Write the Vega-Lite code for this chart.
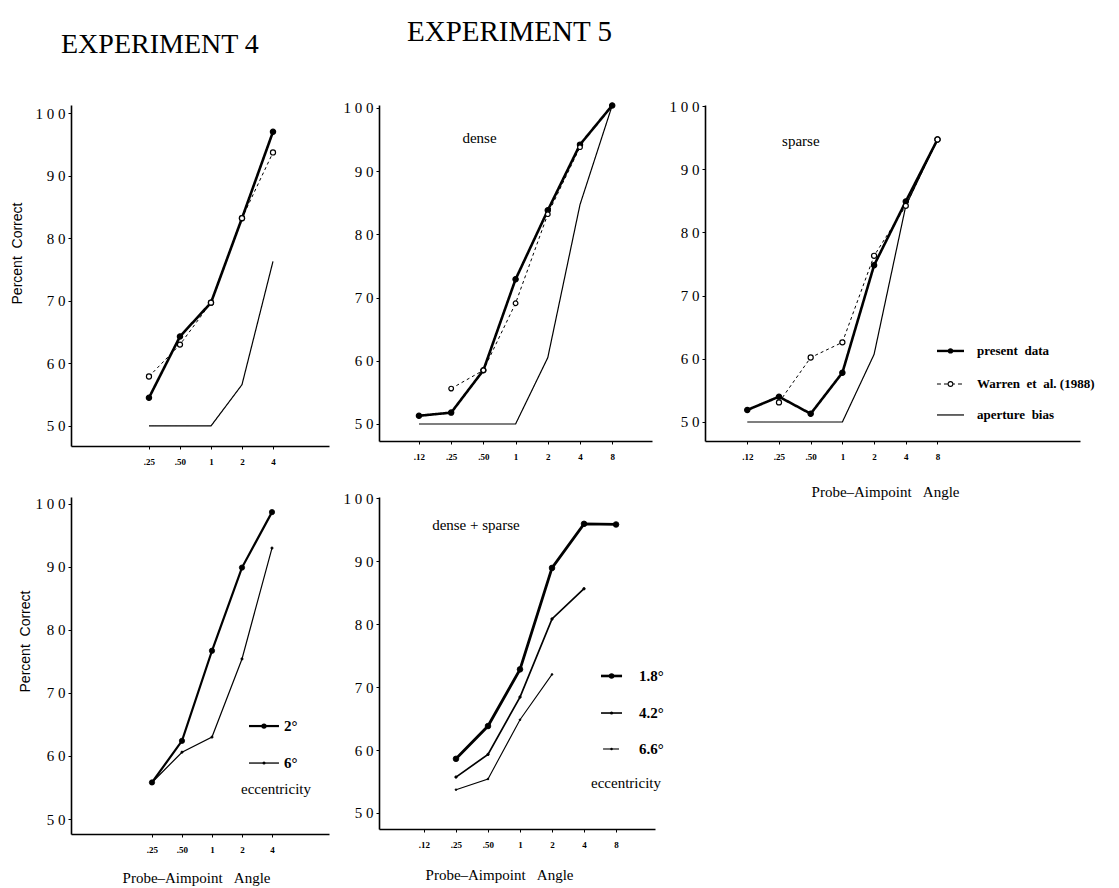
{
  "$schema": "https://vega.github.io/schema/vega-lite/v6.json",
  "background": "white",
  "padding": {"left": 10, "top": 18, "right": 2, "bottom": 2},
  "columns": 3,
  "align": "none",
  "bounds": "flush",
  "spacing": {"row": 51, "column": 50},
  "resolve": {"scale": {"x": "independent", "y": "independent", "fill": "independent", "size": "independent", "strokeWidth": "independent", "strokeDash": "independent"}},
  "datasets": {
    "one": [{"k": 1}],
    "pts": [
      {"p": "P1", "s": "present", "a": 0.25, "v": 54.5},
      {"p": "P1", "s": "present", "a": 0.5, "v": 64.3},
      {"p": "P1", "s": "present", "a": 1, "v": 69.7},
      {"p": "P1", "s": "present", "a": 2, "v": 83.2},
      {"p": "P1", "s": "present", "a": 4, "v": 97.0},
      {"p": "P1", "s": "Warren", "a": 0.25, "v": 57.9},
      {"p": "P1", "s": "Warren", "a": 0.5, "v": 63.0},
      {"p": "P1", "s": "Warren", "a": 1, "v": 69.7},
      {"p": "P1", "s": "Warren", "a": 2, "v": 83.2},
      {"p": "P1", "s": "Warren", "a": 4, "v": 93.7},
      {"p": "P1", "s": "aperture", "a": 0.25, "v": 50},
      {"p": "P1", "s": "aperture", "a": 0.5, "v": 50},
      {"p": "P1", "s": "aperture", "a": 1, "v": 50},
      {"p": "P1", "s": "aperture", "a": 2, "v": 56.6},
      {"p": "P1", "s": "aperture", "a": 4, "v": 76.3},
      {"p": "P2", "s": "present", "a": 0.125, "v": 51.3},
      {"p": "P2", "s": "present", "a": 0.25, "v": 51.8},
      {"p": "P2", "s": "present", "a": 0.5, "v": 58.5},
      {"p": "P2", "s": "present", "a": 1, "v": 72.9},
      {"p": "P2", "s": "present", "a": 2, "v": 83.8},
      {"p": "P2", "s": "present", "a": 4, "v": 94.2},
      {"p": "P2", "s": "present", "a": 8, "v": 100.4},
      {"p": "P2", "s": "Warren", "a": 0.25, "v": 55.6},
      {"p": "P2", "s": "Warren", "a": 0.5, "v": 58.5},
      {"p": "P2", "s": "Warren", "a": 1, "v": 69.1},
      {"p": "P2", "s": "Warren", "a": 2, "v": 83.2},
      {"p": "P2", "s": "Warren", "a": 4, "v": 93.8},
      {"p": "P2", "s": "aperture", "a": 0.125, "v": 50},
      {"p": "P2", "s": "aperture", "a": 0.25, "v": 50},
      {"p": "P2", "s": "aperture", "a": 0.5, "v": 50},
      {"p": "P2", "s": "aperture", "a": 1, "v": 50},
      {"p": "P2", "s": "aperture", "a": 2, "v": 60.5},
      {"p": "P2", "s": "aperture", "a": 4, "v": 84.7},
      {"p": "P2", "s": "aperture", "a": 8, "v": 100.4},
      {"p": "P3", "s": "present", "a": 0.125, "v": 51.9},
      {"p": "P3", "s": "present", "a": 0.25, "v": 54.0},
      {"p": "P3", "s": "present", "a": 0.5, "v": 51.3},
      {"p": "P3", "s": "present", "a": 1, "v": 57.8},
      {"p": "P3", "s": "present", "a": 2, "v": 74.8},
      {"p": "P3", "s": "present", "a": 4, "v": 84.9},
      {"p": "P3", "s": "present", "a": 8, "v": 94.7},
      {"p": "P3", "s": "Warren", "a": 0.25, "v": 53.1},
      {"p": "P3", "s": "Warren", "a": 0.5, "v": 60.2},
      {"p": "P3", "s": "Warren", "a": 1, "v": 62.6},
      {"p": "P3", "s": "Warren", "a": 2, "v": 76.3},
      {"p": "P3", "s": "Warren", "a": 4, "v": 84.2},
      {"p": "P3", "s": "Warren", "a": 8, "v": 94.7},
      {"p": "P3", "s": "aperture", "a": 0.125, "v": 50},
      {"p": "P3", "s": "aperture", "a": 0.25, "v": 50},
      {"p": "P3", "s": "aperture", "a": 0.5, "v": 50},
      {"p": "P3", "s": "aperture", "a": 1, "v": 50},
      {"p": "P3", "s": "aperture", "a": 2, "v": 60.7},
      {"p": "P3", "s": "aperture", "a": 4, "v": 84.2},
      {"p": "P3", "s": "aperture", "a": 8, "v": 94.7},
      {"p": "P4", "s": "2°", "a": 0.25, "v": 55.8},
      {"p": "P4", "s": "2°", "a": 0.5, "v": 62.4},
      {"p": "P4", "s": "2°", "a": 1, "v": 76.7},
      {"p": "P4", "s": "2°", "a": 2, "v": 89.9},
      {"p": "P4", "s": "2°", "a": 4, "v": 98.7},
      {"p": "P4", "s": "6°", "a": 0.25, "v": 55.8},
      {"p": "P4", "s": "6°", "a": 0.5, "v": 60.6},
      {"p": "P4", "s": "6°", "a": 1, "v": 63.0},
      {"p": "P4", "s": "6°", "a": 2, "v": 75.4},
      {"p": "P4", "s": "6°", "a": 4, "v": 93.0},
      {"p": "P5", "s": "1.8°", "a": 0.25, "v": 58.6},
      {"p": "P5", "s": "1.8°", "a": 0.5, "v": 63.8},
      {"p": "P5", "s": "1.8°", "a": 1, "v": 72.8},
      {"p": "P5", "s": "1.8°", "a": 2, "v": 88.9},
      {"p": "P5", "s": "1.8°", "a": 4, "v": 95.9},
      {"p": "P5", "s": "1.8°", "a": 8, "v": 95.8},
      {"p": "P5", "s": "4.2°", "a": 0.25, "v": 55.7},
      {"p": "P5", "s": "4.2°", "a": 0.5, "v": 59.3},
      {"p": "P5", "s": "4.2°", "a": 1, "v": 68.4},
      {"p": "P5", "s": "4.2°", "a": 2, "v": 80.8},
      {"p": "P5", "s": "4.2°", "a": 4, "v": 85.6},
      {"p": "P5", "s": "6.6°", "a": 0.25, "v": 53.7},
      {"p": "P5", "s": "6.6°", "a": 0.5, "v": 55.4},
      {"p": "P5", "s": "6.6°", "a": 1, "v": 64.8},
      {"p": "P5", "s": "6.6°", "a": 2, "v": 72.0}
    ]
  },
  "concat": [
    {
      "width": 258, "height": 341,
      "title": {"text": "EXPERIMENT 4", "anchor": "start", "frame": "group", "dx": -10, "offset": 24, "baseline": "alphabetic", "fontSize": 28, "font": "Liberation Serif", "fontWeight": "normal", "color": "black"},
      "data": {"name": "pts"},
      "transform": [{"filter": "datum.p === 'P1'"}],
      "layer": [
        {
          "mark": {"type": "line", "color": "black"},
          "encoding": {
            "x": {"field": "a", "type": "quantitative", "scale": {"type": "log", "base": 2, "domain": [0.04375, 13.99], "nice": false},
                  "axis": {"values": [0.25, 0.5, 1, 2, 4], "title": null, "labelExpr": "datum.value < 0.2 ? '.12' : datum.value < 0.3 ? '.25' : datum.value < 0.6 ? '.50' : '' + datum.value"}},
            "y": {"field": "v", "type": "quantitative", "scale": {"domain": [46.8, 101.28], "nice": false, "zero": false},
                  "axis": {"values": [50, 60, 70, 80, 90, 100], "title": "Percent\u00a0\u00a0Correct", "titleX": -47, "titleY": 148}},
            "detail": {"field": "s"},
            "strokeWidth": {"field": "s", "type": "nominal", "scale": {"type": "ordinal", "domain": ["present", "Warren", "aperture"], "range": [2.6, 1, 1.2]}, "legend": null},
            "strokeDash": {"field": "s", "type": "nominal", "scale": {"type": "ordinal", "domain": ["present", "Warren", "aperture"], "range": [[1, 0], [3, 3], [1, 0]]}, "legend": null}
          }
        },
        {
          "mark": {"type": "point", "shape": "circle", "stroke": "black", "strokeWidth": 1.2, "opacity": 1},
          "transform": [{"filter": "datum.s !== 'aperture'"}],
          "encoding": {
            "x": {"field": "a", "type": "quantitative"},
            "y": {"field": "v", "type": "quantitative"},
            "fill": {"field": "s", "type": "nominal", "scale": {"domain": ["present", "Warren"], "range": ["black", "white"]}, "legend": null},
            "size": {"field": "s", "type": "nominal", "scale": {"type": "ordinal", "domain": ["present", "Warren"], "range": [28, 26]}, "legend": null}
          }
        }
      ]
    },
    {
      "width": 273, "height": 336,
      "title": {"text": "EXPERIMENT 5", "anchor": "start", "frame": "group", "dx": 28, "offset": 30, "baseline": "alphabetic", "fontSize": 29, "font": "Liberation Serif", "fontWeight": "normal", "color": "black"},
      "data": {"name": "pts"},
      "transform": [{"filter": "datum.p === 'P2'"}],
      "layer": [
        {
          "mark": {"type": "line", "color": "black"},
          "encoding": {
            "x": {"field": "a", "type": "quantitative", "scale": {"type": "log", "base": 2, "domain": [0.0529, 18.84], "nice": false},
                  "axis": {"values": [0.125, 0.25, 0.5, 1, 2, 4, 8], "title": null, "labelExpr": "datum.value < 0.2 ? '.12' : datum.value < 0.3 ? '.25' : datum.value < 0.6 ? '.50' : '' + datum.value"}},
            "y": {"field": "v", "type": "quantitative", "scale": {"domain": [47.31, 100.47], "nice": false, "zero": false},
                  "axis": {"values": [50, 60, 70, 80, 90, 100], "title": null}},
            "detail": {"field": "s"},
            "strokeWidth": {"field": "s", "type": "nominal", "scale": {"type": "ordinal", "domain": ["present", "Warren", "aperture"], "range": [2.6, 1, 1.2]}, "legend": null},
            "strokeDash": {"field": "s", "type": "nominal", "scale": {"type": "ordinal", "domain": ["present", "Warren", "aperture"], "range": [[1, 0], [3, 3], [1, 0]]}, "legend": null}
          }
        },
        {
          "mark": {"type": "point", "shape": "circle", "stroke": "black", "strokeWidth": 1.2, "opacity": 1},
          "transform": [{"filter": "datum.s !== 'aperture'"}],
          "encoding": {
            "x": {"field": "a", "type": "quantitative"},
            "y": {"field": "v", "type": "quantitative"},
            "fill": {"field": "s", "type": "nominal", "scale": {"domain": ["present", "Warren"], "range": ["black", "white"]}, "legend": null},
            "size": {"field": "s", "type": "nominal", "scale": {"type": "ordinal", "domain": ["present", "Warren"], "range": [28, 22]}, "legend": null}
          }
        },
        {
          "data": {"values": [{"t": "dense"}]},
          "mark": {"type": "text", "font": "Liberation Serif", "fontSize": 15, "align": "center", "baseline": "middle", "color": "black"},
          "encoding": {"x": {"datum": 0.46}, "y": {"datum": 95.3}, "text": {"field": "t"}}
        }
      ]
    },
    {
      "width": 375, "height": 336,
      "data": {"name": "pts"},
      "transform": [{"filter": "datum.p === 'P3'"}],
      "layer": [
        {
          "mark": {"type": "line", "color": "black"},
          "encoding": {
            "x": {"field": "a", "type": "quantitative", "scale": {"type": "log", "base": 2, "domain": [0.0496, 180.4], "nice": false},
                  "axis": {"values": [0.125, 0.25, 0.5, 1, 2, 4, 8], "title": "Probe\u2013Aimpoint\u00a0\u00a0\u00a0Angle", "titleX": 180, "titleY": 55, "titleBaseline": "alphabetic", "titleAlign": "center", "labelExpr": "datum.value < 0.2 ? '.12' : datum.value < 0.3 ? '.25' : datum.value < 0.6 ? '.50' : '' + datum.value"}},
            "y": {"field": "v", "type": "quantitative", "scale": {"domain": [46.99, 100.16], "nice": false, "zero": false},
                  "axis": {"values": [50, 60, 70, 80, 90, 100], "title": null}},
            "detail": {"field": "s"},
            "strokeWidth": {"field": "s", "type": "nominal", "scale": {"type": "ordinal", "domain": ["present", "Warren", "aperture"], "range": [2.6, 1, 1.2]}, "legend": null},
            "strokeDash": {"field": "s", "type": "nominal", "scale": {"type": "ordinal", "domain": ["present", "Warren", "aperture"], "range": [[1, 0], [3, 3], [1, 0]]}, "legend": null}
          }
        },
        {
          "mark": {"type": "point", "shape": "circle", "stroke": "black", "strokeWidth": 1.2, "opacity": 1},
          "transform": [{"filter": "datum.s !== 'aperture'"}],
          "encoding": {
            "x": {"field": "a", "type": "quantitative"},
            "y": {"field": "v", "type": "quantitative"},
            "fill": {"field": "s", "type": "nominal", "scale": {"domain": ["present", "Warren"], "range": ["black", "white"]}, "legend": null},
            "size": {"field": "s", "type": "nominal", "scale": {"type": "ordinal", "domain": ["present", "Warren"], "range": [28, 26]}, "legend": null}
          }
        },
        {
          "data": {"values": [{"t": "sparse"}]},
          "mark": {"type": "text", "font": "Liberation Serif", "fontSize": 15, "align": "center", "baseline": "middle", "color": "black"},
          "encoding": {"x": {"datum": 0.403}, "y": {"datum": 94.5}, "text": {"field": "t"}}
        },
        {
          "data": {"name": "one"},
          "mark": {"type": "rule", "color": "black", "strokeWidth": 2.4},
          "encoding": {"x": {"datum": 7.91}, "x2": {"datum": 14.28}, "y": {"datum": 61.24}}
        },
        {
          "data": {"name": "one"},
          "mark": {"type": "point", "shape": "circle", "filled": true, "color": "black", "size": 28, "opacity": 1},
          "encoding": {"x": {"datum": 10.63}, "y": {"datum": 61.24}}
        },
        {
          "data": {"name": "one"},
          "mark": {"type": "rule", "color": "black", "strokeWidth": 1.1, "strokeDash": [4, 3]},
          "encoding": {"x": {"datum": 7.91}, "x2": {"datum": 14.28}, "y": {"datum": 56.01}}
        },
        {
          "data": {"name": "one"},
          "mark": {"type": "point", "shape": "circle", "fill": "white", "stroke": "black", "strokeWidth": 1.1, "size": 22, "opacity": 1},
          "encoding": {"x": {"datum": 10.63}, "y": {"datum": 56.01}}
        },
        {
          "data": {"name": "one"},
          "mark": {"type": "rule", "color": "black", "strokeWidth": 1.2},
          "encoding": {"x": {"datum": 7.91}, "x2": {"datum": 14.28}, "y": {"datum": 51.11}}
        },
        {
          "data": {"values": [{"t": "present\u00a0\u00a0data", "y": 61.24}, {"t": "Warren\u00a0\u00a0et\u00a0\u00a0al.\u00a0(1988)", "y": 56.01}, {"t": "aperture\u00a0\u00a0bias", "y": 51.11}]},
          "mark": {"type": "text", "font": "Liberation Serif", "fontSize": 13, "fontWeight": "bold", "align": "left", "baseline": "middle", "color": "black"},
          "encoding": {"x": {"datum": 18.98}, "y": {"field": "y", "type": "quantitative"}, "text": {"field": "t"}}
        }
      ]
    },
    {
      "width": 258, "height": 337,
      "data": {"name": "pts"},
      "transform": [{"filter": "datum.p === 'P4'"}],
      "layer": [
        {
          "mark": {"type": "line", "color": "black"},
          "encoding": {
            "x": {"field": "a", "type": "quantitative", "scale": {"type": "log", "base": 2, "domain": [0.0385, 14.93], "nice": false},
                  "axis": {"values": [0.25, 0.5, 1, 2, 4], "title": "Probe\u2013Aimpoint\u00a0\u00a0\u00a0Angle", "titleX": 125, "titleY": 48, "titleBaseline": "alphabetic", "titleAlign": "center", "labelExpr": "datum.value < 0.2 ? '.12' : datum.value < 0.3 ? '.25' : datum.value < 0.6 ? '.50' : '' + datum.value"}},
            "y": {"field": "v", "type": "quantitative", "scale": {"domain": [47.62, 101.1], "nice": false, "zero": false},
                  "axis": {"values": [50, 60, 70, 80, 90, 100], "title": "Percent\u00a0\u00a0Correct", "titleX": -39, "titleY": 144}},
            "detail": {"field": "s"},
            "strokeWidth": {"field": "s", "type": "nominal", "scale": {"type": "ordinal", "domain": ["2°", "6°"], "range": [2.2, 1.2]}, "legend": null}
          }
        },
        {
          "mark": {"type": "point", "shape": "circle", "stroke": "black", "fill": "black", "strokeWidth": 0.8, "opacity": 1},
          "encoding": {
            "x": {"field": "a", "type": "quantitative"},
            "y": {"field": "v", "type": "quantitative"},
            "size": {"field": "s", "type": "nominal", "scale": {"type": "ordinal", "domain": ["2°", "6°"], "range": [28, 5]}, "legend": null}
          }
        },
        {
          "data": {"values": [{"t": "eccentricity"}]},
          "mark": {"type": "text", "font": "Liberation Serif", "fontSize": 15, "align": "center", "baseline": "middle", "color": "black"},
          "encoding": {"x": {"datum": 4.39}, "y": {"datum": 54.75}, "text": {"field": "t"}}
        },
        {
          "data": {"name": "one"},
          "mark": {"type": "rule", "color": "black", "strokeWidth": 2.2},
          "encoding": {"x": {"datum": 2.351}, "x2": {"datum": 4.70}, "y": {"datum": 64.75}}
        },
        {
          "data": {"name": "one"},
          "mark": {"type": "point", "shape": "circle", "filled": true, "color": "black", "size": 28, "opacity": 1},
          "encoding": {"x": {"datum": 3.325}, "y": {"datum": 64.75}}
        },
        {
          "data": {"name": "one"},
          "mark": {"type": "rule", "color": "black", "strokeWidth": 1.3},
          "encoding": {"x": {"datum": 2.351}, "x2": {"datum": 4.70}, "y": {"datum": 58.88}}
        },
        {
          "data": {"name": "one"},
          "mark": {"type": "point", "shape": "circle", "filled": true, "color": "black", "size": 9, "opacity": 1},
          "encoding": {"x": {"datum": 3.325}, "y": {"datum": 58.88}}
        },
        {
          "data": {"values": [{"t": "2°", "y": 64.75}, {"t": "6°", "y": 58.88}]},
          "mark": {"type": "text", "font": "Liberation Serif", "fontSize": 15, "fontWeight": "bold", "align": "left", "baseline": "middle", "color": "black"},
          "encoding": {"x": {"datum": 5.278}, "y": {"field": "y", "type": "quantitative"}, "text": {"field": "t"}}
        }
      ]
    },
    {
      "width": 276, "height": 332,
      "data": {"name": "pts"},
      "transform": [{"filter": "datum.p === 'P5'"}],
      "layer": [
        {
          "mark": {"type": "line", "color": "black"},
          "encoding": {
            "x": {"field": "a", "type": "quantitative", "scale": {"type": "log", "base": 2, "domain": [0.0472, 18.6], "nice": false},
                  "axis": {"values": [0.125, 0.25, 0.5, 1, 2, 4, 8], "title": "Probe\u2013Aimpoint\u00a0\u00a0\u00a0Angle", "titleX": 120, "titleY": 50, "titleBaseline": "alphabetic", "titleAlign": "center", "labelExpr": "datum.value < 0.2 ? '.12' : datum.value < 0.3 ? '.25' : datum.value < 0.6 ? '.50' : '' + datum.value"}},
            "y": {"field": "v", "type": "quantitative", "scale": {"domain": [47.46, 100.16], "nice": false, "zero": false},
                  "axis": {"values": [50, 60, 70, 80, 90, 100], "title": null}},
            "detail": {"field": "s"},
            "strokeWidth": {"field": "s", "type": "nominal", "scale": {"type": "ordinal", "domain": ["1.8°", "4.2°", "6.6°"], "range": [2.8, 1.7, 1.1]}, "legend": null}
          }
        },
        {
          "mark": {"type": "point", "shape": "circle", "stroke": "black", "fill": "black", "strokeWidth": 0.8, "opacity": 1},
          "encoding": {
            "x": {"field": "a", "type": "quantitative"},
            "y": {"field": "v", "type": "quantitative"},
            "size": {"field": "s", "type": "nominal", "scale": {"type": "ordinal", "domain": ["1.8°", "4.2°", "6.6°"], "range": [32, 6, 3]}, "legend": null}
          }
        },
        {
          "data": {"values": [{"t": "dense + sparse"}]},
          "mark": {"type": "text", "font": "Liberation Serif", "fontSize": 15, "align": "center", "baseline": "middle", "color": "black"},
          "encoding": {"x": {"datum": 0.385}, "y": {"datum": 95.7}, "text": {"field": "t"}}
        },
        {
          "data": {"values": [{"t": "eccentricity"}]},
          "mark": {"type": "text", "font": "Liberation Serif", "fontSize": 15, "align": "center", "baseline": "middle", "color": "black"},
          "encoding": {"x": {"datum": 9.93}, "y": {"datum": 54.76}, "text": {"field": "t"}}
        },
        {
          "data": {"name": "one"},
          "mark": {"type": "rule", "color": "black", "strokeWidth": 2.6},
          "encoding": {"x": {"datum": 5.78}, "x2": {"datum": 9.11}, "y": {"datum": 71.75}}
        },
        {
          "data": {"name": "one"},
          "mark": {"type": "point", "shape": "circle", "filled": true, "color": "black", "size": 30, "opacity": 1},
          "encoding": {"x": {"datum": 7.26}, "y": {"datum": 71.75}}
        },
        {
          "data": {"name": "one"},
          "mark": {"type": "rule", "color": "black", "strokeWidth": 1.6},
          "encoding": {"x": {"datum": 5.78}, "x2": {"datum": 9.11}, "y": {"datum": 65.87}}
        },
        {
          "data": {"name": "one"},
          "mark": {"type": "point", "shape": "circle", "filled": true, "color": "black", "size": 10, "opacity": 1},
          "encoding": {"x": {"datum": 7.26}, "y": {"datum": 65.87}}
        },
        {
          "data": {"name": "one"},
          "mark": {"type": "rule", "color": "black", "strokeWidth": 1.1},
          "encoding": {"x": {"datum": 6.04}, "x2": {"datum": 8.54}, "y": {"datum": 60.16}}
        },
        {
          "data": {"name": "one"},
          "mark": {"type": "point", "shape": "circle", "filled": true, "color": "black", "size": 6, "opacity": 1},
          "encoding": {"x": {"datum": 7.26}, "y": {"datum": 60.16}}
        },
        {
          "data": {"values": [{"t": "1.8°", "y": 71.75}, {"t": "4.2°", "y": 65.87}, {"t": "6.6°", "y": 60.16}]},
          "mark": {"type": "text", "font": "Liberation Serif", "fontSize": 15, "fontWeight": "bold", "align": "left", "baseline": "middle", "color": "black"},
          "encoding": {"x": {"datum": 13.17}, "y": {"field": "y", "type": "quantitative"}, "text": {"field": "t"}}
        }
      ]
    }
  ],
  "config": {
    "view": {"stroke": null},
    "mark": {"color": "black"},
    "font": "Liberation Serif",
    "axis": {
      "grid": false,
      "domainColor": "black",
      "domainWidth": 1.6,
      "tickColor": "black",
      "tickSize": 3,
      "tickWidth": 1,
      "labelColor": "black",
      "labelFont": "Liberation Serif",
      "titleColor": "black",
      "titleFontWeight": "normal",
      "labelOverlap": false,
      "labelFlush": false
    },
    "axisX": {"labelFontSize": 9, "labelFontWeight": "bold", "labelPadding": 8, "titleFont": "Liberation Serif", "titleFontSize": 15},
    "axisY": {"labelFontSize": 15, "labelPadding": 3, "labelExpr": "join(split(datum.label, ''), '\u00a0')", "titleFont": "Liberation Sans", "titleFontSize": 14}
  }
}
